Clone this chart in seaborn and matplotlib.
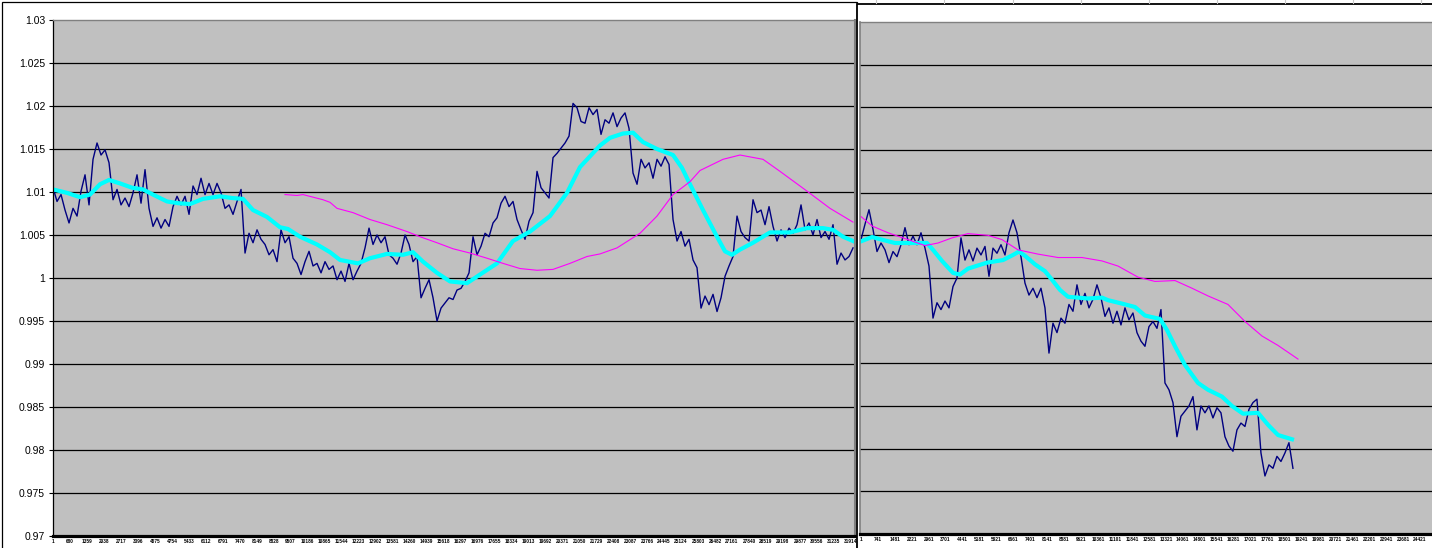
import numpy as np
import matplotlib
matplotlib.use("Agg")
import matplotlib.pyplot as plt
import seaborn as sns
from matplotlib.patches import Rectangle
from matplotlib.lines import Line2D

# ---- data ----
# navy price series, sampled every `step` observations (high/low alternating)
left_step = 160
left_price = [
    1.0105, 1.0089, 1.0097, 1.0079, 1.0064, 1.0081, 1.0072, 1.0101, 1.0120, 1.0085,
    1.0138, 1.0157, 1.0143, 1.0149, 1.0134, 1.0091, 1.0103, 1.0085, 1.0093, 1.0083,
    1.0099, 1.0120, 1.0087, 1.0126, 1.0081, 1.0060, 1.0070, 1.0058, 1.0068, 1.0060,
    1.0083, 1.0095, 1.0085, 1.0095, 1.0074, 1.0107, 1.0097, 1.0116, 1.0097, 1.0110,
    1.0097, 1.0110, 1.0099, 1.0081, 1.0085, 1.0074, 1.0089, 1.0103, 1.0029, 1.0052,
    1.0041, 1.0056, 1.0045, 1.0039, 1.0027, 1.0033, 1.0019, 1.0056, 1.0041, 1.0048,
    1.0023, 1.0017, 1.0004, 1.0019, 1.0031, 1.0014, 1.0017, 1.0006, 1.0019, 1.0010,
    1.0014, 0.9998, 1.0008, 0.9996, 1.0017, 0.9998, 1.0008, 1.0017, 1.0035, 1.0058,
    1.0039, 1.0050, 1.0041, 1.0048, 1.0027, 1.0023, 1.0016, 1.0029, 1.0050, 1.0039,
    1.0019, 1.0025, 0.9977, 0.9988, 0.9998, 0.9977, 0.9950, 0.9965, 0.9971, 0.9977,
    0.9975, 0.9986, 0.9988, 0.9996, 1.0006, 1.0048, 1.0027, 1.0037, 1.0052, 1.0048,
    1.0064, 1.0070, 1.0087, 1.0095, 1.0083, 1.0089, 1.0068, 1.0056, 1.0045, 1.0066,
    1.0076, 1.0124, 1.0105, 1.0099, 1.0093, 1.0140, 1.0145, 1.0151, 1.0157, 1.0165,
    1.0203, 1.0198, 1.0182, 1.0180, 1.0198, 1.0190, 1.0196,
    1.0167, 1.0184, 1.0180, 1.0192, 1.0176, 1.0186, 1.0192, 1.0174, 1.0122, 1.0109,
    1.0138, 1.0128, 1.0134, 1.0116, 1.0138, 1.0130, 1.0141, 1.0132, 1.0068, 1.0043,
    1.0054, 1.0037, 1.0045, 1.0021, 1.0012, 0.9965, 0.9979, 0.9969, 0.9981, 0.9961,
    0.9977, 1.0002, 1.0014, 1.0025, 1.0072, 1.0054, 1.0047, 1.0043, 1.0091, 1.0076,
    1.0079, 1.0062, 1.0083, 1.0060, 1.0043, 1.0056, 1.0047, 1.0058, 1.0052, 1.0062,
    1.0085, 1.0056, 1.0064, 1.0050, 1.0068, 1.0047, 1.0054, 1.0045, 1.0062, 1.0016,
    1.0029, 1.0021, 1.0025, 1.0035,
]
# cyan short moving average
left_ma_x = [0, 560, 1080, 1480, 1880, 2240, 2680, 3160, 3600, 4000,
             4560, 5000, 5480, 6000, 6680, 7160, 7600, 8000, 8560, 9080,
             9400, 9880, 10560, 11080, 11480, 12200, 12680, 13360, 14000, 14400,
             14800, 15360, 15880, 16560, 17080, 17760, 18400, 19080, 19880, 20560,
             21080, 21880, 22280, 22800, 23200, 23600, 24160, 24800, 25160, 25480,
             26000, 26560, 26880, 27160, 27480, 28000, 28680, 29480, 30160, 30800,
             31200, 31600, 32000]
left_ma = [1.0103, 1.0099, 1.0094, 1.0097, 1.0109, 1.0114, 1.0110, 1.0105, 1.0103, 1.0097,
           1.0089, 1.0087, 1.0086, 1.0092, 1.0095, 1.0093, 1.0092, 1.0079, 1.0071, 1.0059,
           1.0057, 1.0048, 1.0039, 1.0030, 1.0021, 1.0017, 1.0023, 1.0028, 1.0027, 1.0030,
           1.0019, 1.0006, 0.9996, 0.9994, 1.0004, 1.0017, 1.0043, 1.0054, 1.0072, 1.0099,
           1.0129, 1.0154, 1.0163, 1.0168, 1.0169, 1.0158, 1.0150, 1.0143, 1.0128, 1.0109,
           1.0079, 1.0048, 1.0031, 1.0027, 1.0033, 1.0041, 1.0053, 1.0053, 1.0058, 1.0058,
           1.0056, 1.0048, 1.0043]
# magenta long moving average
left_long_x = [9280, 9760, 10000, 10400, 10800, 11080, 11360, 12000, 12680, 13360,
               14160, 14680, 15360, 16000, 16680, 17360, 18000, 18680, 19360, 20000,
               20680, 21360, 21880, 22560, 23480, 24160, 24800, 25480, 25880, 26800,
               27480, 28400, 29080, 30160, 31080, 32000]
left_long = [1.0097, 1.0096, 1.0097, 1.0094, 1.0091, 1.0088, 1.0081, 1.0076, 1.0068, 1.0062,
             1.0054, 1.0048, 1.0041, 1.0034, 1.0029, 1.0023, 1.0017, 1.0011, 1.0009, 1.0010,
             1.0017, 1.0025, 1.0028, 1.0035, 1.0052, 1.0072, 1.0097, 1.0112, 1.0125, 1.0138,
             1.0143, 1.0138, 1.0124, 1.0101, 1.0081, 1.0065]

right_step = 174.7
right_price = [
    1.0045, 1.0063, 1.0080, 1.0057, 1.0031, 1.0041, 1.0033, 1.0018, 1.0031, 1.0025,
    1.0039, 1.0059, 1.0039, 1.0049, 1.0039, 1.0053, 1.0035, 1.0014, 0.9953, 0.9971,
    0.9963, 0.9973, 0.9965, 0.9990, 1.0000, 1.0047, 1.0021, 1.0033, 1.0020, 1.0035,
    1.0027, 1.0037, 1.0002, 1.0035, 1.0029, 1.0039, 1.0027, 1.0053, 1.0068, 1.0053,
    1.0025, 0.9994, 0.9980, 0.9988, 0.9977, 0.9988, 0.9965, 0.9912, 0.9947, 0.9936,
    0.9953, 0.9947, 0.9969, 0.9961, 0.9992, 0.9969, 0.9982, 0.9965, 0.9975, 0.9992,
    0.9977, 0.9955, 0.9965, 0.9947, 0.9961, 0.9945, 0.9965, 0.9951, 0.9959, 0.9936,
    0.9926, 0.9920, 0.9943, 0.9949, 0.9941, 0.9963, 0.9877, 0.9869, 0.9854, 0.9814,
    0.9838, 0.9844, 0.9850, 0.9861, 0.9822, 0.9850, 0.9842, 0.9850, 0.9836, 0.9848,
    0.9842, 0.9814, 0.9803, 0.9797, 0.9822, 0.9830, 0.9826, 0.9846, 0.9854, 0.9858,
    0.9795, 0.9768, 0.9781, 0.9777, 0.9791, 0.9785, 0.9795, 0.9807, 0.9777,
]
right_ma_x = [1, 481, 1049, 1486, 2229, 2884, 3146, 3539, 4020, 4325,
              4675, 5505, 6204, 6640, 6902, 7165, 7601, 8038, 8344, 8693,
              9043, 9917, 10528, 10790, 11402, 11969, 12406, 13061, 13367, 13717,
              14153, 14721, 15158, 15769, 16206, 16687, 17342, 17778, 18215, 18827]
right_ma = [1.0043, 1.0048, 1.0044, 1.0041, 1.0041, 1.0041, 1.0033, 1.0020, 1.0006, 1.0004,
            1.0011, 1.0018, 1.0021, 1.0027, 1.0031, 1.0026, 1.0016, 1.0008, 0.9998, 0.9986,
            0.9978, 0.9976, 0.9977, 0.9974, 0.9970, 0.9966, 0.9956, 0.9952, 0.9939, 0.9920,
            0.9898, 0.9877, 0.9869, 0.9861, 0.9850, 0.9841, 0.9842, 0.9828, 0.9816, 0.9811]
right_long_x = [1, 481, 1180, 2054, 2796, 3364, 3976, 4675, 5548, 6160,
                6859, 7732, 8606, 9654, 10528, 11227, 12100, 12843, 13717, 14460,
                15158, 16032, 16774, 17517, 18215, 19089]
right_long = [1.0072, 1.0061, 1.0053, 1.0045, 1.0038, 1.0041, 1.0047, 1.0052, 1.0050, 1.0045,
              1.0033, 1.0028, 1.0024, 1.0024, 1.0020, 1.0014, 1.0001, 0.9996, 0.9997, 0.9988,
              0.9979, 0.9969, 0.9949, 0.9932, 0.9921, 0.9905]

left_ticks = list(range(1, 31915, 679))
right_ticks = list(range(1, 24422, 740))
y_ticks = [round(0.97 + 0.005 * k, 3) for k in range(13)]

# ---- figure ----
plt.rcParams['font.family'] = ['Liberation Sans', 'DejaVu Sans']
W, H = 1432, 548
fig = plt.figure(figsize=(W / 100, H / 100), dpi=100, facecolor='white')


def px_box(x0, y0, x1, y1):
    return [x0 / W, 1 - y1 / H, (x1 - x0) / W, (y1 - y0) / H]


ax1 = fig.add_axes(px_box(53, 20, 855, 536))
ax2 = fig.add_axes(px_box(860, 22, 1445, 534), zorder=2)

left_x = 1 + np.arange(len(left_price)) * left_step
right_x = 1 + np.arange(len(right_price)) * right_step

for ax, px, py, mx, my, lx, ly in [
    (ax1, left_x, left_price, left_ma_x, left_ma, left_long_x, left_long),
    (ax2, right_x, right_price, right_ma_x, right_ma, right_long_x, right_long),
]:
    ax.set_facecolor('#C0C0C0')
    sns.lineplot(x=px, y=py, ax=ax, color='#000080', lw=1.0, estimator=None)
    sns.lineplot(x=mx, y=my, ax=ax, color='#00FFFF', lw=3.0, estimator=None)
    sns.lineplot(x=lx, y=ly, ax=ax, color='#FF00FF', lw=0.8, estimator=None)
    ax.set_ylim(0.97, 1.03)
    ax.set_yticks(y_ticks)
    ax.yaxis.grid(True, color='black', lw=0.9)
    ax.xaxis.grid(False)
    ax.set_axisbelow(True)
    ax.get_ygridlines()[-1].set_visible(False)
    ax.set_xlabel('')
    ax.set_ylabel('')
    ax.spines['top'].set_color('#808080')
    ax.spines['top'].set_linewidth(1.0)
    ax.spines['bottom'].set_color('black')
    ax.spines['bottom'].set_linewidth(2.3)
    ax.tick_params(axis='x', length=0, pad=2.2, labelsize=3.4)

ax1.set_xlim(0, 32080)
ax2.set_xlim(1 - 43.68, 1 + 584 * 43.68)

ax1.set_xticks(left_ticks)
ax1.set_xticklabels([str(t) for t in left_ticks], fontweight='bold')
ax2.set_xticks(right_ticks)
ax2.set_xticklabels([str(t) for t in right_ticks], fontweight='bold')

ax1.set_yticklabels([f"{v:g}" for v in y_ticks])
ax1.tick_params(axis='y', direction='out', length=3.2, width=0.8, color='black',
                labelsize=7.5, pad=2.5)
ax1.spines['left'].set_color('black')
ax1.spines['left'].set_linewidth(0.9)
ax1.spines['right'].set_color('#808080')
ax1.spines['right'].set_linewidth(1.5)

ax2.tick_params(axis='y', length=0, labelleft=False)
ax2.spines['left'].set_color('#808080')
ax2.spines['left'].set_linewidth(1.2)
ax2.spines['right'].set_visible(False)

# outer chart frames (left chart border, right chart object pasted over it)
fig.add_artist(Rectangle((1.5 / W, -0.05), (857 - 1.5) / W, (H - 1.5) / H + 0.05,
                         transform=fig.transFigure, facecolor='none',
                         edgecolor='black', lw=0.9, zorder=0.5))
fig.add_artist(Rectangle((857 / W, -0.05), 1.0, (H - 3.5) / H + 0.05,
                         transform=fig.transFigure, facecolor='white',
                         edgecolor='black', lw=1.3, zorder=1.5))
# spreadsheet cell lines peeking above the right chart
for xc in [876, 944, 1013, 1081, 1149, 1217, 1285, 1353, 1421]:
    fig.add_artist(Line2D([xc / W, xc / W], [1.0, 1 - 2.5 / H], transform=fig.transFigure,
                          color='#C8C8C8', lw=0.8, zorder=1.6))

fig.savefig('out.png', dpi=100, facecolor='white')
